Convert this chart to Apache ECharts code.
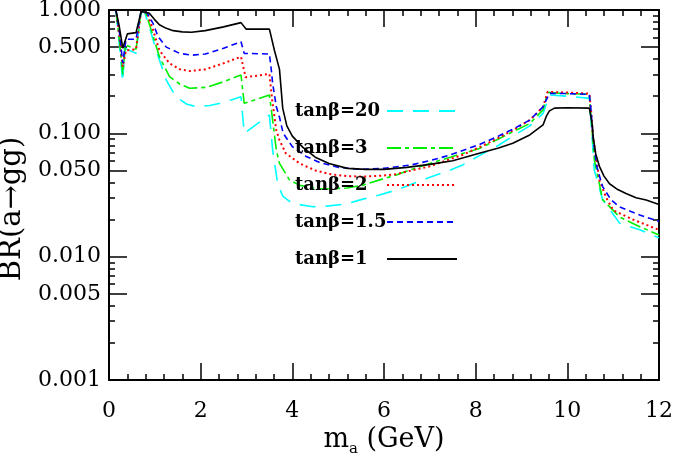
<!DOCTYPE html>
<html>
<head>
<meta charset="utf-8">
<script src="https://cdn.jsdelivr.net/npm/echarts@6.0.0/dist/echarts.min.js"></script>
<style>
  html, body { margin: 0; padding: 0; background: #fff; }
  #BR { width: 677px; height: 457px; }
</style>
</head>
<body>
<div id="BR"></div>
<script>
// BR(a->gg) vs m_a, pairs of [m_a (GeV), BR]
var tb20 = [[0.15,1.0],[0.22,0.55],[0.30,0.26],[0.34,0.49],[0.59,0.445],[0.70,0.97],[0.78,0.95],[0.88,0.73],[1.03,0.47],[1.25,0.27],[1.46,0.198],[1.70,0.172],[1.90,0.165],[2.20,0.168],[2.50,0.178],[2.88,0.198],[2.95,0.10],[3.50,0.141],[3.57,0.0735],[3.68,0.039],[3.79,0.031],[4.00,0.027],[4.45,0.0254],[4.80,0.0258],[5.18,0.0268],[5.50,0.029],[5.90,0.0316],[6.30,0.035],[6.63,0.039],[7.00,0.044],[7.36,0.049],[7.70,0.055],[8.08,0.066],[8.50,0.080],[8.81,0.095],[9.18,0.115],[9.47,0.145],[9.61,0.205],[10.0,0.200],[10.48,0.192],[10.52,0.12],[10.59,0.05],[10.77,0.029],[11.14,0.0187],[11.58,0.0165],[12.0,0.0142]];
var tb3 = [[0.15,1.0],[0.22,0.6],[0.30,0.30],[0.36,0.52],[0.59,0.48],[0.70,0.97],[0.80,0.95],[0.92,0.69],[1.10,0.418],[1.32,0.288],[1.55,0.25],[1.76,0.232],[2.12,0.236],[2.50,0.262],[2.88,0.297],[2.95,0.175],[3.50,0.205],[3.56,0.137],[3.65,0.0735],[3.72,0.057],[3.94,0.0418],[4.16,0.038],[4.52,0.0355],[4.81,0.0355],[5.20,0.036],[5.54,0.038],[6.00,0.043],[6.27,0.046],[6.60,0.051],[7.00,0.057],[7.50,0.065],[8.08,0.0753],[8.50,0.090],[8.81,0.103],[9.18,0.12],[9.47,0.155],[9.57,0.215],[10.0,0.21],[10.48,0.207],[10.52,0.13],[10.59,0.0608],[10.77,0.029],[11.14,0.021],[11.58,0.0175],[12.0,0.015]];
var tb2 = [[0.15,1.0],[0.22,0.65],[0.30,0.347],[0.37,0.47],[0.59,0.48],[0.70,0.97],[0.83,0.95],[0.96,0.69],[1.10,0.47],[1.32,0.37],[1.55,0.33],[1.76,0.32],[2.10,0.33],[2.50,0.37],[2.88,0.418],[2.98,0.285],[3.50,0.303],[3.56,0.186],[3.65,0.106],[3.72,0.088],[3.86,0.0687],[4.16,0.057],[4.50,0.050],[4.81,0.0467],[5.20,0.045],[5.54,0.0446],[6.00,0.0455],[6.27,0.0467],[6.60,0.050],[7.00,0.054],[7.40,0.061],[7.72,0.067],[8.08,0.077],[8.50,0.092],[8.81,0.106],[9.18,0.128],[9.47,0.164],[9.57,0.217],[10.0,0.214],[10.48,0.21],[10.52,0.15],[10.56,0.094],[10.70,0.0418],[10.85,0.030],[11.00,0.0238],[11.43,0.020],[12.0,0.0165]];
var tb15 = [[0.15,1.0],[0.22,0.7],[0.30,0.37],[0.37,0.58],[0.59,0.58],[0.70,0.97],[0.83,0.95],[0.96,0.78],[1.07,0.61],[1.25,0.50],[1.54,0.445],[1.80,0.43],[2.10,0.44],[2.50,0.49],[2.88,0.553],[2.95,0.445],[3.50,0.44],[3.54,0.33],[3.57,0.255],[3.65,0.165],[3.72,0.135],[3.80,0.10],[4.00,0.078],[4.30,0.065],[4.60,0.058],[5.00,0.053],[5.50,0.051],[6.00,0.052],[6.60,0.0555],[7.00,0.060],[7.40,0.066],[8.08,0.081],[8.50,0.095],[8.81,0.108],[9.18,0.128],[9.47,0.164],[9.61,0.211],[10.0,0.21],[10.48,0.207],[10.52,0.15],[10.56,0.094],[10.64,0.054],[10.77,0.037],[10.95,0.029],[11.14,0.0253],[11.58,0.0218],[12.0,0.0193]];
var tb1 = [[0.15,1.0],[0.22,0.75],[0.30,0.49],[0.40,0.64],[0.59,0.655],[0.70,0.97],[0.80,0.96],[0.88,0.94],[0.99,0.84],[1.10,0.76],[1.25,0.71],[1.40,0.68],[1.60,0.665],[1.80,0.66],[2.10,0.68],[2.50,0.73],[2.88,0.79],[2.99,0.70],[3.50,0.70],[3.61,0.47],[3.72,0.33],[3.79,0.16],[3.88,0.115],[4.00,0.095],[4.23,0.077],[4.50,0.064],[4.80,0.057],[5.20,0.052],[5.60,0.051],[6.00,0.051],[6.50,0.053],[7.00,0.056],[7.50,0.060],[8.08,0.069],[8.50,0.076],[8.81,0.083],[9.18,0.097],[9.47,0.117],[9.54,0.137],[9.61,0.152],[9.72,0.160],[10.0,0.161],[10.48,0.160],[10.54,0.12],[10.57,0.09],[10.62,0.068],[10.70,0.054],[10.80,0.045],[10.92,0.039],[11.10,0.035],[11.28,0.0325],[11.50,0.030],[11.72,0.0288],[12.0,0.0265]];

var names = ["tanβ=20", "tanβ=3", "tanβ=2", "tanβ=1.5", "tanβ=1"];
var curves = [tb20, tb3, tb2, tb15, tb1];
var colors = ["#00ffff", "#00ee00", "#ff0000", "#0000ff", "#000000"];
var dashes = [[16, 10], [14, 4, 4, 4], [2, 3], [6, 4], "solid"];
var widths = [1.6, 1.6, 2, 1.6, 1.6];

var yMajor = [0.001, 0.005, 0.01, 0.05, 0.1, 0.5, 1];
var yMinor = [0.002, 0.003, 0.004, 0.006, 0.007, 0.008, 0.009,
  0.02, 0.03, 0.04, 0.06, 0.07, 0.08, 0.09,
  0.2, 0.3, 0.4, 0.6, 0.7, 0.8, 0.9];

var FONT = "DejaVu Serif";

var chart = echarts.init(document.getElementById("BR"));

function xAx(pos, withLabel) {
  return {
    type: "value", position: pos, min: 0, max: 12, interval: 2,
    axisLine: { show: true, onZero: false, lineStyle: { color: "#000", width: 2 } },
    axisTick: { show: true, inside: true, length: 17, lineStyle: { color: "#000", width: 1.5 } },
    minorTick: { show: true, splitNumber: 5, length: 6, lineStyle: { color: "#000", width: 1.5 } },
    axisLabel: { show: withLabel, margin: 20, color: "#000", fontFamily: FONT, fontSize: 22 },
    splitLine: { show: false },
    name: withLabel ? "{m|m}{s|a}{m| (GeV)}" : "",
    nameLocation: "middle",
    nameGap: 43,
    nameTextStyle: {
      rich: {
        m: { fontFamily: FONT, fontSize: 27, color: "#000" },
        s: { fontFamily: FONT, fontSize: 15, color: "#000", padding: [18, 0, 0, 0] }
      }
    }
  };
}

function yAx(pos, ticks, len, withLabel, withLine) {
  return {
    type: "log", logBase: 10, position: pos, min: 0.001, max: 1,
    axisLine: { show: withLine, onZero: false, lineStyle: { color: "#000", width: 2 } },
    axisTick: { show: true, inside: true, length: len, customValues: ticks,
      lineStyle: { color: "#000", width: 1.5 } },
    axisLabel: { show: withLabel, customValues: yMajor, margin: 8, color: "#000",
      fontFamily: FONT, fontSize: 22,
      formatter: function (v) { return Number(v).toFixed(3); } },
    splitLine: { show: false },
    name: withLabel ? "BR(a→gg)" : "",
    nameLocation: "middle",
    nameGap: 63,
    nameTextStyle: { fontFamily: FONT, fontSize: 29, color: "#000", padding: [0, 28, 0, 0] }
  };
}

var series = curves.map(function (c, i) {
  return {
    name: names[i], type: "line", data: c, symbol: "none",
    xAxisIndex: 0, yAxisIndex: 0,
    lineStyle: { color: colors[i], width: widths[i], type: dashes[i] },
    itemStyle: { color: colors[i] }
  };
});

var option = {
  animation: false,
  backgroundColor: "#fff",
  grid: { left: 109, top: 10, width: 550, height: 370, containLabel: false, outerBoundsMode: "none" },
  xAxis: [xAx("bottom", true), xAx("top", false)],
  yAxis: [
    yAx("left", yMajor, 18, true, true),
    yAx("left", yMinor, 6, false, false),
    yAx("right", yMajor, 18, false, true),
    yAx("right", yMinor, 6, false, false)
  ],
  legend: {
    data: names,
    orient: "vertical",
    left: 290,
    top: 97,
    align: "right",
    itemWidth: 70,
    itemHeight: 14,
    itemGap: 19,
    selectedMode: false,
    itemStyle: { color: "transparent", borderColor: "transparent", borderWidth: 0, opacity: 0 },
    formatter: function (n) { return "{t|" + n + "}"; },
    textStyle: {
      rich: {
        t: { width: 87, align: "left", fontFamily: FONT, fontSize: 18,
          fontWeight: "bold", color: "#000", lineHeight: 20 }
      }
    }
  },
  series: series
};

chart.setOption(option);
</script>
</body>
</html>
